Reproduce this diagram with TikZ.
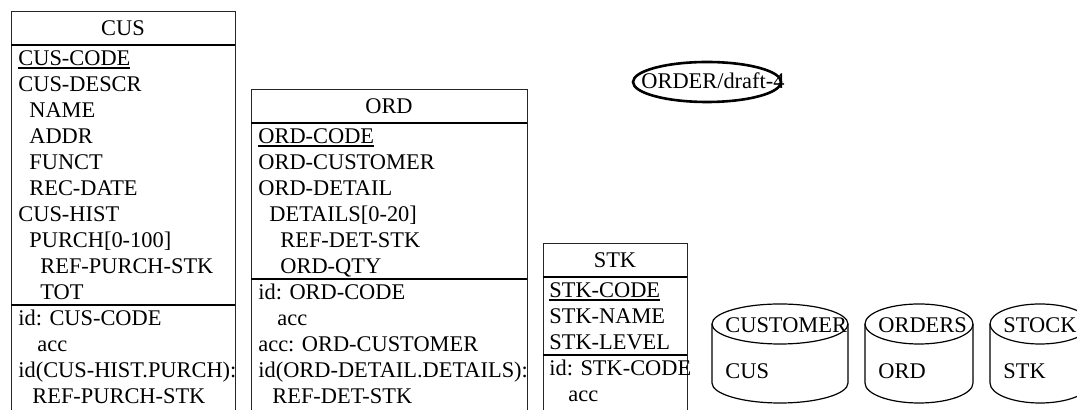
\documentclass[tikz,border=0pt]{standalone}
\usepackage{fontspec}
\setmainfont{Liberation Serif}
\tikzset{
  box/.style={draw=black!85,line width=0.5pt},
  sepline/.style={line width=1pt},
  fields/.style={anchor=base west,align=left,inner sep=0pt,font=\fontsize{11.2}{13}\selectfont},
  title/.style={anchor=base,inner sep=0pt,font=\fontsize{11.2}{13}\selectfont},
  dbline/.style={line width=0.6pt},
  dbtext/.style={anchor=base west,inner sep=0pt,font=\fontsize{11.2}{13}\selectfont},
  oval/.style={line width=1.3pt}
}
\newcommand\ind{\hspace*{5.5pt}}
\newcommand\sub{\hspace*{9.5pt}}
\newcommand\pk[1]{\setbox0\hbox{#1}\rlap{\rule[-1.7pt]{\wd0}{0.8pt}}\box0}
\begin{document}
\begin{tikzpicture}[x=0.5pt,y=-0.5pt]
\useasboundingbox (0,0) rectangle (1077,410);
% record type CUS (nodes anchored at the baseline of their last line)
\draw[box] (11,410) -- (11,12) -- (235,12) -- (235,410);
\draw[sepline] (11,45) -- (235,45) (11,305) -- (235,305);
\node[title] (cus) at (123,36) {CUS};
\node[fields] (cus-fld) at (18,299.5)
  {\pk{CUS-CODE}\\CUS-DESCR\\\ind NAME\\\ind ADDR\\\ind FUNCT\\\ind REC-DATE\\
   CUS-HIST\\\ind PURCH[0-100]\\\ind\ind REF-PURCH-STK\\\ind\ind TOT};
\node[fields] (cus-key) at (18,403.5)
  {id: CUS-CODE\\\sub acc\\id(CUS-HIST.PURCH):\\\hspace*{7pt}REF-PURCH-STK};
% record type ORD
\draw[box] (251,410) -- (251,90) -- (527,90) -- (527,410);
\draw[sepline] (251,123) -- (527,123) (251,279) -- (527,279);
\node[title] (ord) at (389,114) {ORD};
\node[fields] (ord-fld) at (258,273.5)
  {\pk{ORD-CODE}\\ORD-CUSTOMER\\ORD-DETAIL\\\ind DETAILS[0-20]\\\ind\ind REF-DET-STK\\\ind\ind ORD-QTY};
\node[fields] (ord-key) at (258,403.5)
  {id: ORD-CODE\\\sub acc\\acc: ORD-CUSTOMER\\id(ORD-DETAIL.DETAILS):\\\hspace*{7pt}REF-DET-STK};
% record type STK
\draw[box] (543,410) -- (543,244) -- (687,244) -- (687,410);
\draw[sepline] (543,277) -- (687,277) (543,355) -- (687,355);
\node[title] (stk) at (615,268) {STK};
\node[fields] (stk-fld) at (549,349.5)
  {\pk{STK-CODE}\\STK-NAME\\STK-LEVEL};
\node[fields] (stk-key) at (549,401.5)
  {id: STK-CODE\\\sub acc};
% schema name
\draw[oval] (707,82) ellipse[x radius=74,y radius=20];
\node[dbtext] (schema) at (641,89) {ORDER/draft-4};
% files
\foreach \xl/\rx/\fname/\rname in {712/68/CUSTOMER/CUS,865/54/ORDERS/ORD,990/50/STOCK/STK}{
  \draw[dbline] (\xl,324) -- (\xl,383) arc[start angle=180,end angle=0,x radius=\rx,y radius=20] -- (\xl+2*\rx,324);
  \draw[dbline] (\xl+\rx,324) ellipse[x radius=\rx,y radius=20];
  \node[dbtext] (\fname) at (\xl+13,333) {\fname};
  \node[dbtext] (\rname-in-\fname) at (\xl+13,379) {\rname};
}
\end{tikzpicture}
\end{document}
